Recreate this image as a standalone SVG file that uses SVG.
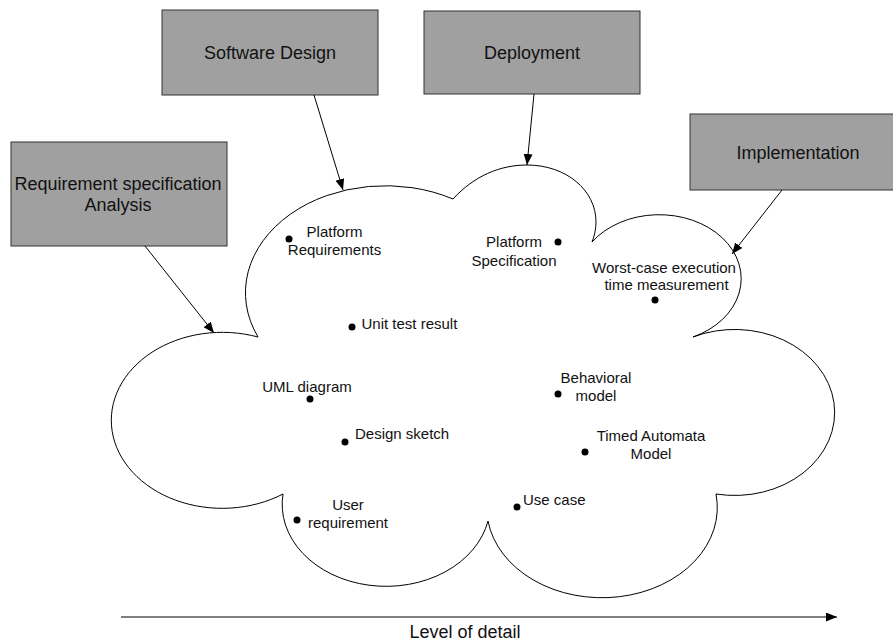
<svg xmlns="http://www.w3.org/2000/svg" width="893" height="644" viewBox="0 0 893 644">
<style>
.box{fill:#a0a0a0;stroke:#303030;stroke-width:1}
.bt{font-family:"Liberation Sans",Arial,sans-serif;font-size:18px;fill:#111;text-anchor:middle}
.lt{font-family:"Liberation Sans",Arial,sans-serif;font-size:15px;fill:#111}
.c{text-anchor:middle}
.dot{fill:#000}
.con{stroke:#000;stroke-width:1;fill:none;marker-end:url(#ah)}
</style>
<defs>
<marker id="ah" markerWidth="12" markerHeight="10" refX="11" refY="4.5" orient="auto" markerUnits="userSpaceOnUse">
<path d="M0,0 L11,4.5 L0,9 z" fill="#000"/>
</marker>
</defs>
<rect width="893" height="644" fill="#fff"/>
<g id="cloud">
<path d="M258,337 A140,107 0 0 1 453,199 C474,176 500,165 527,165 C566,165 596,190 596,222 C596,230 594,237 592,242 A82,64 0 1 1 693,337 A100,83 0 1 1 716,494 A115,90 0 0 1 488,521 A104,82 0 0 1 283,494 A111,88 0 1 1 258,337 Z" fill="#fff" stroke="#000" stroke-width="1"/>
</g>
<g id="software-design"><rect class="box" x="162" y="10" width="216" height="85"/><text class="bt" x="270" y="59">Software Design</text></g>
<g id="deployment"><rect class="box" x="424" y="11" width="216" height="83"/><text class="bt" x="532" y="59">Deployment</text></g>
<g id="implementation"><rect class="box" x="690" y="114" width="216" height="76"/><text class="bt" x="798" y="159">Implementation</text></g>
<g id="requirement"><rect class="box" x="11" y="142" width="216" height="104"/><text class="bt" x="118" y="190">Requirement specification</text><text class="bt" x="118" y="211">Analysis</text></g>
<g id="connectors">
<line class="con" x1="314" y1="95" x2="343" y2="190"/>
<line class="con" x1="534" y1="94" x2="527" y2="165"/>
<line class="con" x1="782" y1="190" x2="732" y2="254"/>
<line class="con" x1="145" y1="246" x2="214" y2="333"/>
<line class="con" x1="121" y1="617" x2="837" y2="617"/>
</g>
<g id="level-of-detail"><text class="bt" x="465" y="638">Level of detail</text></g>
<g id="platform-requirements"><circle class="dot" cx="289" cy="239" r="3.5"/><text class="lt c" x="334.5" y="237">Platform</text><text class="lt c" x="334.5" y="254.5">Requirements</text></g>
<g id="platform-specification"><circle class="dot" cx="558" cy="242" r="3.5"/><text class="lt c" x="514" y="247">Platform</text><text class="lt c" x="514" y="266">Specification</text></g>
<g id="wcet"><circle class="dot" cx="655" cy="300" r="3.5"/><text class="lt c" x="664" y="272.5">Worst-case execution</text><text class="lt c" x="666.5" y="290">time measurement</text></g>
<g id="unit-test"><circle class="dot" cx="352" cy="327" r="3.5"/><text class="lt" x="361.5" y="329">Unit test result</text></g>
<g id="uml"><circle class="dot" cx="310" cy="399" r="3.5"/><text class="lt c" x="307" y="392">UML diagram</text></g>
<g id="design-sketch"><circle class="dot" cx="345" cy="442" r="3.5"/><text class="lt" x="355" y="439">Design sketch</text></g>
<g id="user-req"><circle class="dot" cx="297" cy="520" r="3.5"/><text class="lt c" x="348" y="510">User</text><text class="lt c" x="348" y="527.5">requirement</text></g>
<g id="use-case"><circle class="dot" cx="517" cy="507" r="3.5"/><text class="lt" x="523" y="505">Use case</text></g>
<g id="behavioral"><circle class="dot" cx="558" cy="394" r="3.5"/><text class="lt c" x="596" y="383">Behavioral</text><text class="lt c" x="596" y="400.5">model</text></g>
<g id="timed-automata"><circle class="dot" cx="585" cy="452" r="3.5"/><text class="lt c" x="651" y="441">Timed Automata</text><text class="lt c" x="651" y="458.5">Model</text></g>
</svg>
